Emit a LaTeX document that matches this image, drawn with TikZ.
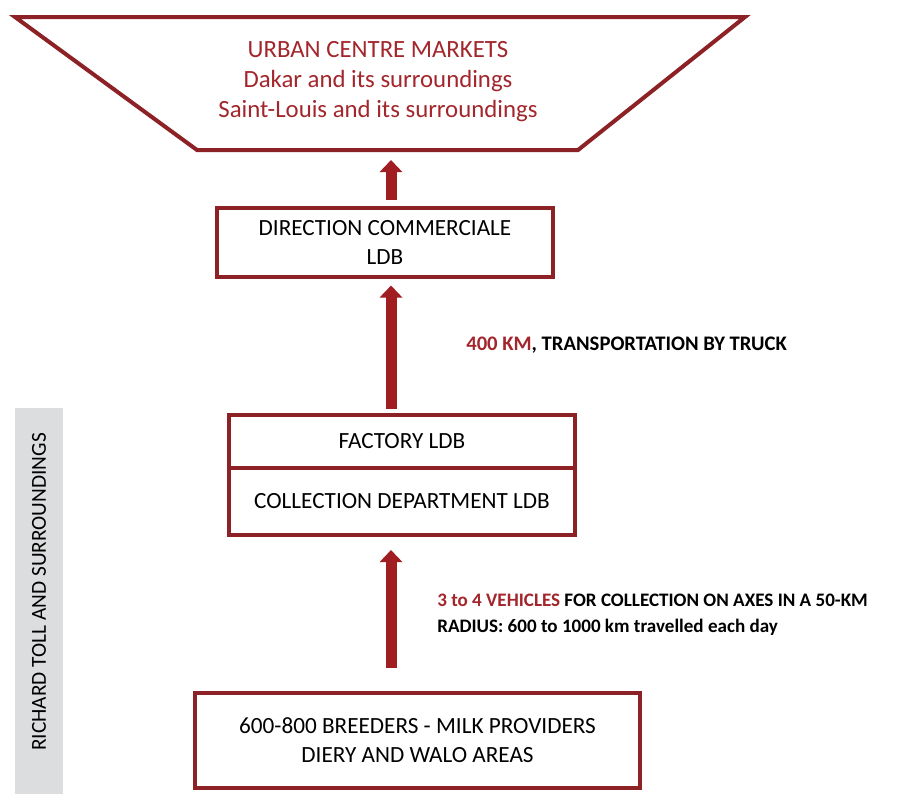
\documentclass[tikz,border=0pt]{standalone}
\usepackage{fontspec}
\setmainfont{Carlito}
\usetikzlibrary{arrows.meta}
\definecolor{frame}{RGB}{140,33,38}
\definecolor{flow}{RGB}{160,29,34}
\definecolor{hilite}{RGB}{162,38,44}
\definecolor{band}{RGB}{220,221,222}
\tikzset{
  stagebox/.style={draw=frame, line width=3pt, inner sep=0pt, outer sep=0pt, font=\fontsize{17.4}{21.75}\selectfont, align=center},
  flowarrow/.style={draw=flow, line width=8.25pt, -{Triangle[width=16.5pt,length=9pt]}},
  notetext/.style={font=\bfseries, align=left, inner sep=0pt},
}
\begin{document}
\begin{tikzpicture}[x=0.75pt,y=-0.75pt]
\useasboundingbox (0,0) rectangle (909,794);

% regional band on the left
\fill[band] (15,408) rectangle (63,794);
\node[rotate=90, font=\fontsize{16}{20}\selectfont] (region) at (39,592) {RICHARD TOLL AND SURROUNDINGS};

% funnel of the urban markets
\draw[frame, line width=3pt, line join=miter] (15,17) -- (745,17) -- (578,150) -- (197,150) -- cycle;
\node[align=center, text=hilite, font=\fontsize{18.6}{22.5}\selectfont] (markets) at (378,82)
  {URBAN CENTRE MARKETS\\Dakar and its surroundings\\Saint-Louis and its surroundings};
\coordinate (mktbase) at (391,150);

% stages of the chain
\node[stagebox, minimum width=336*0.75pt, minimum height=69*0.75pt] (direction) at (385,242.5)
  {DIRECTION COMMERCIALE\\LDB};
\node[stagebox, minimum width=346*0.75pt, minimum height=53*0.75pt] (factory) at (402,441.5)
  {FACTORY LDB};
\node[stagebox, minimum width=346*0.75pt, minimum height=67*0.75pt, anchor=north] (collection) at (factory.south)
  {COLLECTION DEPARTMENT LDB};
\node[stagebox, minimum width=445*0.75pt, minimum height=95*0.75pt] (breeders) at (417.5,740)
  {600-800 BREEDERS - MILK PROVIDERS\\DIERY AND WALO AREAS};

% flows
\coordinate (axis) at (391,0);
\draw[flowarrow, shorten <=8.5*0.75pt, shorten >=10*0.75pt] (direction.north -| axis) -- (mktbase);
\draw[flowarrow, shorten <=6.5*0.75pt, shorten >=8.5*0.75pt] (factory.north -| axis) -- (direction.south -| axis);
\draw[flowarrow, shorten <=25*0.75pt, shorten >=15*0.75pt] (breeders.north -| axis) -- (collection.south -| axis);

% flow annotations
\node[notetext, anchor=west, font=\fontsize{15.5}{19.5}\selectfont\bfseries] (truck) at (466,345)
  {\textcolor{hilite}{400 KM}, TRANSPORTATION BY TRUCK};
\node[notetext, anchor=north west, font=\fontsize{14.3}{19.5}\selectfont\bfseries] (vehicles) at (437,594)
  {\textcolor{hilite}{3 to 4 VEHICLES} FOR COLLECTION ON AXES IN A 50-KM\\RADIUS: 600 to 1000 km travelled each day};
\end{tikzpicture}
\end{document}
